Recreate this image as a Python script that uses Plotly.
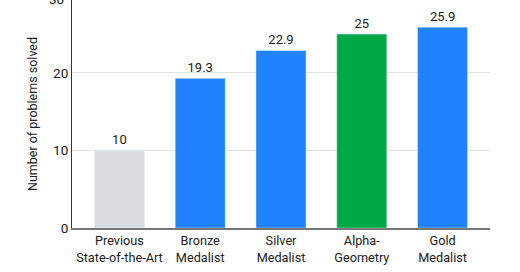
import plotly.graph_objects as go

categories = ["Previous<br>State-of-the-Art", "Bronze<br>Medalist", "Silver<br>Medalist", "Alpha-<br>Geometry", "Gold<br>Medalist"]
values = [10, 19.3, 22.9, 25, 25.9]
labels = ["10", "19.3", "22.9", "25", "25.9"]
colors = ["#DADCE0", "#2183FB", "#2183FB", "#00A846", "#2183FB"]
ytick_vals = [0, 10, 20, 30]
y_range = [0, 29.4]

fig = go.Figure(go.Bar(
    x=list(range(len(categories))), y=values, marker_color=colors, width=0.62,
    text=labels, textposition="outside", cliponaxis=False,
    textfont=dict(size=13, color="#202124", family="Roboto"),
))
fig.update_layout(
    width=520, height=272, margin=dict(l=72, r=30, t=0, b=44),
    plot_bgcolor="white", paper_bgcolor="white", showlegend=False,
    font=dict(family="Roboto", color="#202124", size=13),
    xaxis=dict(tickvals=list(range(len(categories))), ticktext=categories,
               range=[-0.587, 4.587], showline=True, linecolor="#777777", linewidth=2,
               ticks="", tickfont=dict(size=12.7)),
    yaxis=dict(range=y_range, tickvals=ytick_vals[:3], showgrid=True, gridcolor="#E3E3E3",
               showline=True, linecolor="#333333", linewidth=1, zeroline=False,
               ticks="", tickfont=dict(size=13.5),
               title=dict(text="Number of problems solved", font=dict(size=12.5), standoff=12)),
)
fig.add_annotation(x=0, xref="paper", xanchor="right", xshift=-6,
                   y=(ytick_vals[3] - y_range[0]) / (y_range[1] - y_range[0]), yref="paper",
                   yanchor="middle", yshift=-4,
                   text=str(ytick_vals[3]), showarrow=False, font=dict(size=13.5))
fig.write_html("out.html")
